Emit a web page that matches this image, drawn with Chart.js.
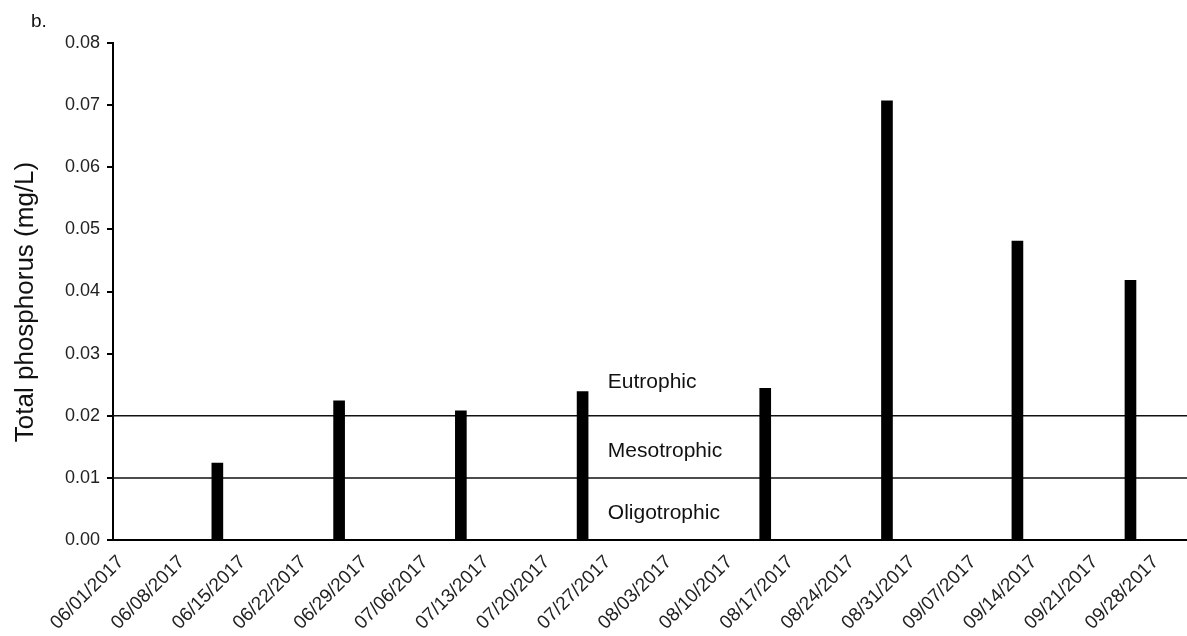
<!DOCTYPE html>
<html>
<head>
<meta charset="utf-8">
<script src="https://cdn.jsdelivr.net/npm/chart.js@4.4.0/dist/chart.umd.min.js"></script>
<style>
    html, body { margin: 0; padding: 0; background: #fff; }
    #wrap { width: 1187px; height: 636px; position: relative; }
</style>
</head>
<body>
<div id="wrap"><canvas id="tpChart"></canvas></div>
<script>
// weekly axis labels
const tickLabels = ['06/01/2017', '06/08/2017', '06/15/2017', '06/22/2017', '06/29/2017', '07/06/2017',
    '07/13/2017', '07/20/2017', '07/27/2017', '08/03/2017', '08/10/2017', '08/17/2017',
    '08/24/2017', '08/31/2017', '09/07/2017', '09/14/2017', '09/21/2017', '09/28/2017'];
// sampling dates and total phosphorus (mg/L)
const sampleDates = ['06/13/2017', '06/27/2017', '07/11/2017', '07/25/2017',
    '08/15/2017', '08/29/2017', '09/13/2017', '09/26/2017'];
const tpValues = [0.0124, 0.0224, 0.0208, 0.0239, 0.0244, 0.0707, 0.0481, 0.0418];
// trophic state boundaries
const thresholds = [0.01, 0.02];
const zoneNames = ['Eutrophic', 'Mesotrophic', 'Oligotrophic'];
const zoneLabelY = [0.0244, 0.0134, 0.0034];

const FONT = '"Liberation Sans", Arial, sans-serif';

function dayOffset(str) {
    const p = str.split('/');
    const t = Date.UTC(+p[2], +p[0] - 1, +p[1]);
    const q = tickLabels[0].split('/');
    const t0 = Date.UTC(+q[2], +q[0] - 1, +q[1]);
    return Math.round((t - t0) / 86400000);
}

const xMax = 123.5;
const tickDays = tickLabels.map(dayOffset);

const lineSets = thresholds.map(v => ({
    type: 'line',
    data: [{ x: 0, y: v }, { x: xMax, y: v }],
    borderColor: '#111',
    borderWidth: 1.5,
    pointRadius: 0,
    order: 2
}));

// extra text: panel letter, y title, zone names
const textPlugin = {
    id: 'textPlugin',
    afterDraw(chart) {
        const ctx = chart.ctx;
        const xs = chart.scales.x;
        const ys = chart.scales.y;
        ctx.save();
        ctx.fillStyle = '#111';
        ctx.font = '19px ' + FONT;
        ctx.textAlign = 'left';
        ctx.textBaseline = 'alphabetic';
        ctx.fillText('b.', 31, 27);

        ctx.font = '21px ' + FONT;
        zoneNames.forEach((name, i) => {
            ctx.fillText(name, xs.getPixelForValue(56.9), ys.getPixelForValue(zoneLabelY[i]));
        });

        ctx.translate(33, 302);
        ctx.rotate(-Math.PI / 2);
        ctx.textAlign = 'center';
        ctx.font = '26px ' + FONT;
        ctx.fillText('Total phosphorus (mg/L)', 0, 0);
        ctx.restore();
    }
};

const ctx = document.getElementById('tpChart').getContext('2d');
const tpChart = new Chart(ctx, {
    type: 'bar',
    data: {
        datasets: [{
            label: 'Total phosphorus',
            data: sampleDates.map((d, i) => ({ x: dayOffset(d), y: tpValues[i] })),
            backgroundColor: '#000',
            borderWidth: 0,
            barThickness: 11,
            order: 1
        }, ...lineSets]
    },
    options: {
        responsive: true,
        maintainAspectRatio: false,
        animation: false,
        layout: {
            padding: { top: 43, right: 0, left: 0, bottom: 0 }
        },
        plugins: {
            legend: { display: false },
            tooltip: { enabled: false }
        },
        scales: {
            x: {
                type: 'linear',
                min: 0,
                max: xMax,
                offset: false,
                grid: { display: false },
                border: { display: true, color: '#000', width: 2 },
                afterBuildTicks: function(scale) {
                    scale.ticks = tickDays.map(v => ({ value: v }));
                },
                afterFit: function(scale) {
                    scale.height = 96;
                },
                ticks: {
                    autoSkip: false,
                    minRotation: 45,
                    maxRotation: 45,
                    padding: 3,
                    labelOffset: 8,
                    color: '#222',
                    font: { family: FONT, size: 19 },
                    callback: function(value, index) {
                        return tickLabels[index];
                    }
                }
            },
            y: {
                min: 0,
                max: 0.08,
                grid: {
                    drawOnChartArea: false,
                    drawTicks: true,
                    tickLength: 6,
                    color: '#000',
                    lineWidth: 2
                },
                border: { display: true, color: '#000', width: 2 },
                afterFit: function(scale) {
                    scale.width = 113;
                },
                ticks: {
                    stepSize: 0.01,
                    padding: 7,
                    color: '#222',
                    font: { family: FONT, size: 18 },
                    callback: function(value) {
                        return value.toFixed(2);
                    }
                }
            }
        }
    },
    plugins: [textPlugin]
});
</script>
</body>
</html>
